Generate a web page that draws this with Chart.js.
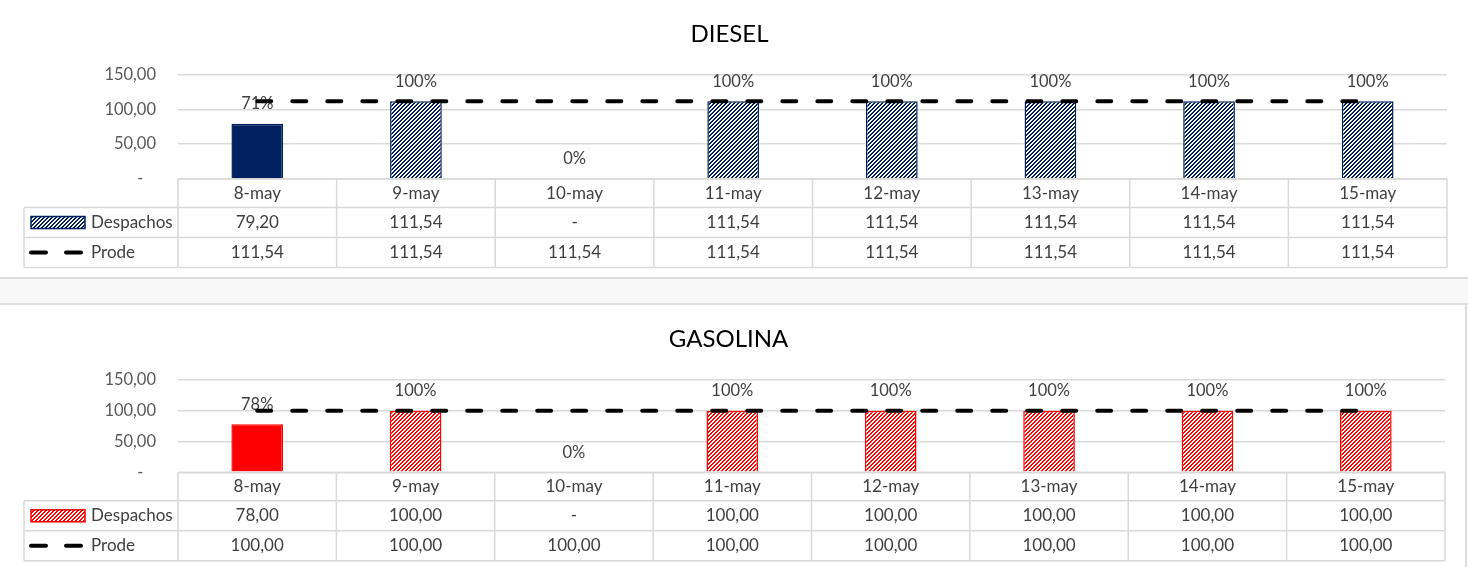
<!DOCTYPE html>
<html>
<head>
<meta charset="utf-8">
<script src="https://cdn.jsdelivr.net/npm/chart.js@4"></script>
<style>
  body { margin: 0; background: #fff; width: 1468px; height: 567px; overflow: hidden; position: relative; font-family: Lato, sans-serif; }
  .panel { position: absolute; left: 0; width: 1468px; }
  #top { top: 0; height: 278px; }
  #bottom { top: 303px; height: 264px; }
  #band { position: absolute; left: 0; top: 277px; width: 1468px; height: 24px; background: #f8f8f8;
          border-top: 2px solid #dcdcdc; border-bottom: 2px solid #dcdcdc; }
  #edge { position: absolute; left: 1465px; top: 303px; width: 2px; height: 264px; background: #dcdcdc; }
</style>
</head>
<body>
<div class="panel" id="top"><canvas id="diesel"></canvas></div>
<div id="band"></div>
<div class="panel" id="bottom"><canvas id="gasolina"></canvas></div>
<div id="edge"></div>
<script>
const days = ['8-may', '9-may', '10-may', '11-may', '12-may', '13-may', '14-may', '15-may']

const dieselDespachos = [79.20, 111.54, 0, 111.54, 111.54, 111.54, 111.54, 111.54]
const dieselProde = [111.54, 111.54, 111.54, 111.54, 111.54, 111.54, 111.54, 111.54]

const gasolinaDespachos = [78.00, 100.00, 0, 100.00, 100.00, 100.00, 100.00, 100.00]
const gasolinaProde = [100.00, 100.00, 100.00, 100.00, 100.00, 100.00, 100.00, 100.00]

const yTicks = [0, 50, 100, 150]

const FONT = 'Lato'
const TEXT = '#404040'
const GRID = '#d9d9d9'

// excel style number: 111,54 / zero shown as a dash
function fmt(v){
	if (v === 0) return '-'
	return v.toFixed(2).replace('.', ',')
}

// "wide upward diagonal" hatch
function hatch(color){
	const c = document.createElement('canvas')
	c.width = 4; c.height = 4
	const g = c.getContext('2d')
	g.fillStyle = '#fff'
	g.fillRect(0, 0, 4, 4)
	g.fillStyle = color
	for (let y = 0; y < 4; y++)
		for (let x = 0; x < 4; x++)
			if ((x + y) % 4 < 2) g.fillRect(x, y, 1, 1)
	return g.createPattern(c, 'repeat')
}

const pctLabels = {
	id: 'pctLabels',
	beforeDatasetsDraw(chart){
		const {ctx} = chart
		const meta = chart.getDatasetMeta(1)
		const bars = chart.data.datasets[1].data
		const prode = chart.data.datasets[0].data
		ctx.save()
		ctx.font = '16.5px ' + FONT
		ctx.fillStyle = TEXT
		ctx.textAlign = 'center'
		ctx.textBaseline = 'middle'
		meta.data.forEach((bar, i) => {
			const pct = Math.round(bars[i] / prode[i] * 100) + '%'
			ctx.fillText(pct, bar.x, bar.y - 20)
		})
		ctx.restore()
	}
}

const dataTable = {
	id: 'dataTable',
	afterDraw(chart, args, opts){
		const {ctx, chartArea: a, scales: {x}} = chart
		const n = chart.data.labels.length
		const half = (a.right - a.left) / n / 2
		const left = 24
		const y0 = a.bottom, y1 = y0 + 28.5, y2 = y1 + 30, y3 = y2 + 30
		const line = (xa, ya, xb, yb) => { ctx.beginPath(); ctx.moveTo(xa, ya); ctx.lineTo(xb, yb); ctx.stroke() }

		ctx.save()
		ctx.strokeStyle = GRID
		ctx.lineWidth = 1.5
		line(a.left, y0, a.right, y0)
		line(left, y1, a.right, y1)
		line(left, y2, a.right, y2)
		line(left, y3, a.right, y3)
		line(left, y1, left, y3)
		for (let i = 0; i < n; i++){
			line(x.getPixelForValue(i) - half, y0, x.getPixelForValue(i) - half, y3)
		}
		line(a.right, y0, a.right, y3)

		ctx.font = '17px ' + FONT
		ctx.fillStyle = TEXT
		ctx.textBaseline = 'middle'
		ctx.textAlign = 'center'
		const bars = chart.data.datasets[1].data
		const prode = chart.data.datasets[0].data
		chart.data.labels.forEach((lab, i) => {
			const cx = x.getPixelForValue(i)
			ctx.fillText(lab, cx, (y0 + y1) / 2)
			ctx.fillText(fmt(bars[i]), cx, (y1 + y2) / 2)
			ctx.fillText(fmt(prode[i]), cx, (y2 + y3) / 2)
		})

		// legend keys
		ctx.textAlign = 'left'
		ctx.fillText(chart.data.datasets[1].label, 91, (y1 + y2) / 2)
		ctx.fillText(chart.data.datasets[0].label, 91, (y2 + y3) / 2)

		const ky = (y1 + y2) / 2
		ctx.fillStyle = opts.pattern
		ctx.fillRect(31, ky - 6, 54, 12)
		ctx.strokeStyle = opts.color
		ctx.lineWidth = 1.5
		ctx.strokeRect(31, ky - 6, 54, 12)

		const ly = (y2 + y3) / 2
		ctx.strokeStyle = '#000'
		ctx.lineWidth = 4
		ctx.lineCap = 'round'
		line(31, ly, 46, ly)
		line(66, ly, 81, ly)
		ctx.restore()
	}
}

function makeChart(id, title, despachos, prode, color, pad){
	const pattern = hatch(color)
	return new Chart(document.getElementById(id), {
		data: {
			labels: days,
			datasets: [{
				type: 'line',
				label: 'Prode',
				data: prode,
				borderColor: '#000',
				borderWidth: 4,
				borderDash: [14, 21],
				borderCapStyle: 'round',
				pointRadius: 0,
				fill: false,
				order: 0
			}, {
				type: 'bar',
				label: 'Despachos',
				data: despachos,
				backgroundColor: (c) => c.dataIndex === 0 ? color : pattern,
				borderColor: color,
				borderWidth: 1.5,
				categoryPercentage: 1,
				barPercentage: 0.326,
				order: 1
			}]
		},
		options: {
			responsive: true,
			maintainAspectRatio: false,
			animation: false,
			layout: { padding: { left: 12, right: pad.right, top: 0, bottom: pad.bottom } },
			plugins: {
				legend: { display: false },
				tooltip: { enabled: false },
				title: {
					display: true,
					text: title,
					color: '#000',
					font: { family: FONT, size: 24, weight: 'normal' },
					padding: { top: pad.titleTop, bottom: pad.titleBottom }
				},
				dataTable: { pattern: pattern, color: color }
			},
			scales: {
				x: { display: false },
				y: {
					min: 0,
					max: 150,
					afterBuildTicks: (s) => { s.ticks = yTicks.map(v => ({ value: v })) },
					afterFit: (s) => { s.width = 166 },
					border: { display: false },
					grid: { color: GRID, lineWidth: 1.5, drawTicks: false },
					ticks: {
						padding: 22,
						color: '#595959',
						font: { family: FONT, size: 16.5 },
						callback: (v) => v === 0 ? '-   ' : fmt(v)
					}
				}
			}
		},
		plugins: [pctLabels, dataTable]
	})
}

makeChart('diesel', 'DIESEL', dieselDespachos, dieselProde, '#002060',
	{ right: 21, bottom: 99, titleTop: 19.6, titleBottom: 26.1 })
makeChart('gasolina', 'GASOLINA', gasolinaDespachos, gasolinaProde, '#ff0000',
	{ right: 23, bottom: 94.7, titleTop: 21.6, titleBottom: 26.6 })
</script>
</body>
</html>
